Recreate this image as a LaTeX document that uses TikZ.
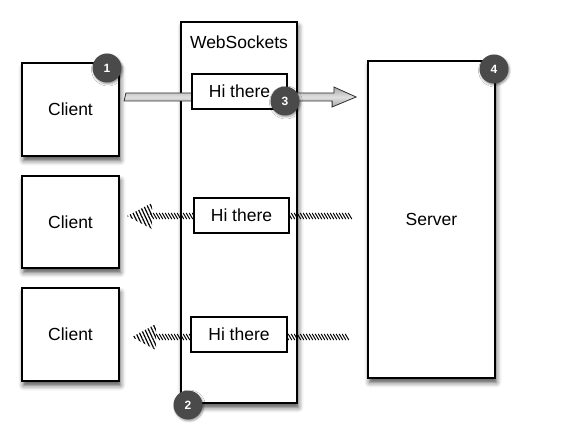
\documentclass[tikz,border=0pt]{standalone}
\usepackage{fontspec}
\setmainfont{Liberation Sans}
\usetikzlibrary{shadows.blur,decorations.markings,patterns.meta,calc}
\definecolor{badgegray}{HTML}{4A4A4A}
\begin{document}
\begin{tikzpicture}[x=1pt,y=-1pt,
  every node/.style={font=\fontsize{17.5}{21}\selectfont},
  bigbox/.style={draw=black,line width=1.8pt,fill=white,inner sep=0pt,
    blur shadow={shadow xshift=1.5pt,shadow yshift=-4.5pt,shadow blur radius=5pt,shadow opacity=70}},
  hibox/.style={draw=black,line width=1.4pt,fill=white,inner sep=0pt,minimum height=35pt},
  badge/.style={circle,fill=badgegray,text=white,inner sep=0pt,minimum size=29pt,
    font=\fontsize{12}{14}\selectfont\bfseries,
    blur shadow={shadow xshift=1pt,shadow yshift=-1.5pt,shadow blur radius=2pt,shadow opacity=40}},
  hatchshaft/.style={decorate,decoration={markings,
    mark=between positions 0 and 1 step 3pt with {\draw[black,line width=1pt] (-1.8pt,3pt) -- (1.8pt,-3pt);}}},
  hatchhead/.style={pattern={Lines[angle=-65,distance=3.2pt,line width=1.2pt]},pattern color=black},
  grayarrow/.style={draw=gray!35!black,line width=0.8pt,top color=gray!70,bottom color=gray!70,middle color=gray!25}
]
\useasboundingbox (0,0) rectangle (580,435);

% Clients
\node[bigbox,minimum width=97pt,minimum height=93pt] (client1) at (70.5,109.5) {Client};
\node[bigbox,minimum width=97pt,minimum height=92pt] (client2) at (70.5,222) {Client};
\node[bigbox,minimum width=97pt,minimum height=93pt] (client3) at (70.5,334.5) {Client};

% WebSockets and Server
\node[bigbox,minimum width=116pt,minimum height=381pt] (ws) at (239,212.5) {};
\node[bigbox,minimum width=127pt,minimum height=317pt] (server) at (431.5,219.5) {Server};
\node (wslabel) at (239,42) {WebSockets};

% Arrow 1 (client -> server)
\coordinate (a1s) at ($(client1.east)+(6,-12.5)$);
\coordinate (a1e) at ($(server.west)+(-11,-122.5)$);
\path[grayarrow] (a1s) ++(0,-4) -- ++(208,0) -- ++(0,-6) -- (a1e) -- ++(-24,10) -- ++(0,-6) -- ++(-208,0) -- cycle;

% Arrow 2 (server -> client)
\coordinate (a2s) at (350,216);
\coordinate (a2b) at (152,216);
\coordinate (a2t) at (127,216);
\path[hatchshaft] (a2s) -- (a2b);
\fill[hatchhead] (a2t) -- ($(a2b)+(0,-13)$) -- ($(a2b)+(0,13)$) -- cycle;

% Arrow 3 (server -> client)
\coordinate (a3s) at (347,337);
\coordinate (a3b) at (156,337);
\coordinate (a3t) at (132,337);
\path[hatchshaft] (a3s) -- (a3b);
\fill[hatchhead] (a3t) -- ($(a3b)+(0,-13)$) -- ($(a3b)+(0,13)$) -- cycle;

% Messages
\node[hibox,minimum width=95pt] (hi1) at (239.5,91.5) {Hi there};
\node[hibox,minimum width=95pt] (hi2) at (241.5,215.5) {Hi there};
\node[hibox,minimum width=96pt] (hi3) at (239,334.5) {Hi there};

% Badges
\node[badge] (b1) at (107,68) {1};
\node[badge] (b2) at (188,405) {2};
\node[badge] (b3) at (285,101) {3};
\node[badge] (b4) at (494,69) {4};
\end{tikzpicture}
\end{document}
